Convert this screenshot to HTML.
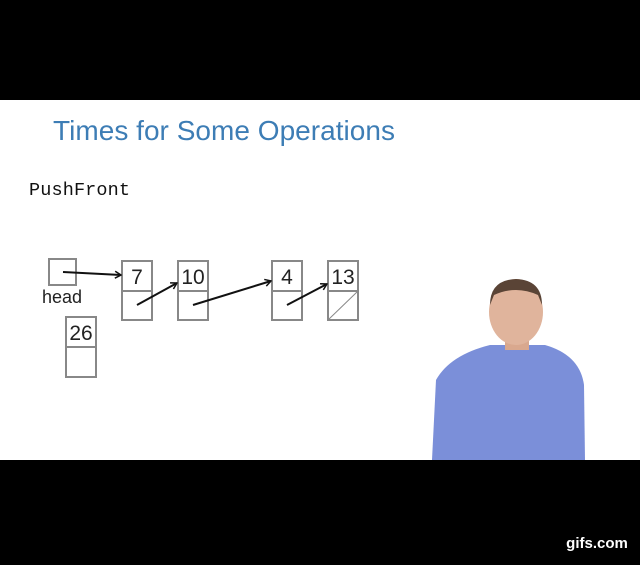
<!DOCTYPE html>
<html><head><style>
body{margin:0;width:640px;height:560px;background:#000;overflow:hidden}
</style></head><body>
<svg width="640" height="560" xmlns="http://www.w3.org/2000/svg">
<rect x="0" y="100" width="640" height="360" fill="#fff"/>
<text x="53" y="140" font-family="Liberation Sans, sans-serif" font-size="28" fill="#3d7db5" textLength="342">Times for Some Operations</text>
<text x="29" y="195" font-family="Liberation Mono, monospace" font-size="18.5" fill="#111" textLength="101">PushFront</text>
<g fill="none" stroke="#888" stroke-width="2">
<rect x="49" y="259" width="27" height="26"/>
<rect x="122" y="261" width="30" height="59"/><line x1="122" y1="291" x2="152" y2="291"/>
<rect x="178" y="261" width="30" height="59"/><line x1="178" y1="291" x2="208" y2="291"/>
<rect x="272" y="261" width="30" height="59"/><line x1="272" y1="291" x2="302" y2="291"/>
<rect x="328" y="261" width="30" height="59"/><line x1="328" y1="291" x2="358" y2="291"/>
<line x1="328" y1="320" x2="358" y2="291" stroke-width="1"/>
<rect x="66" y="317" width="30" height="60"/><line x1="66" y1="347" x2="96" y2="347"/>
</g>
<g font-family="Liberation Sans, sans-serif" font-size="21" fill="#222" text-anchor="middle">
<text x="137" y="284">7</text><text x="193" y="284">10</text><text x="287" y="284">4</text><text x="343" y="284">13</text><text x="81" y="340">26</text>
<text x="62" y="303" font-size="18">head</text>
</g>
<defs><marker id="a" markerUnits="userSpaceOnUse" markerWidth="10" markerHeight="10" refX="9" refY="5" orient="auto"><path d="M3,1.5 L9,5 L3,8.5" fill="none" stroke="#111" stroke-width="1.5"/></marker></defs>
<g stroke="#111" stroke-width="2" marker-end="url(#a)">
<line x1="63" y1="272" x2="121" y2="275"/>
<line x1="137" y1="305" x2="177" y2="283"/>
<line x1="193" y1="305" x2="271" y2="281"/>
<line x1="287" y1="305" x2="327" y2="284"/>
</g>
<path d="M432 460 L436 380 Q450 355 490 345 L545 345 Q580 355 584 385 L585 460 Z" fill="#7b8fd9"/>
<rect x="505" y="330" width="24" height="20" fill="#d9a88e"/>
<ellipse cx="516" cy="312" rx="27" ry="33" fill="#e0b49c"/>
<path d="M490 305 Q490 280 516 279 Q542 280 542 305 L538 295 Q516 285 494 295 Z" fill="#5a4436"/>
<text x="597" y="548" font-family="Liberation Sans, sans-serif" font-size="15" font-weight="bold" fill="#fff" text-anchor="middle">gifs.com</text>
</svg>
</body></html>
